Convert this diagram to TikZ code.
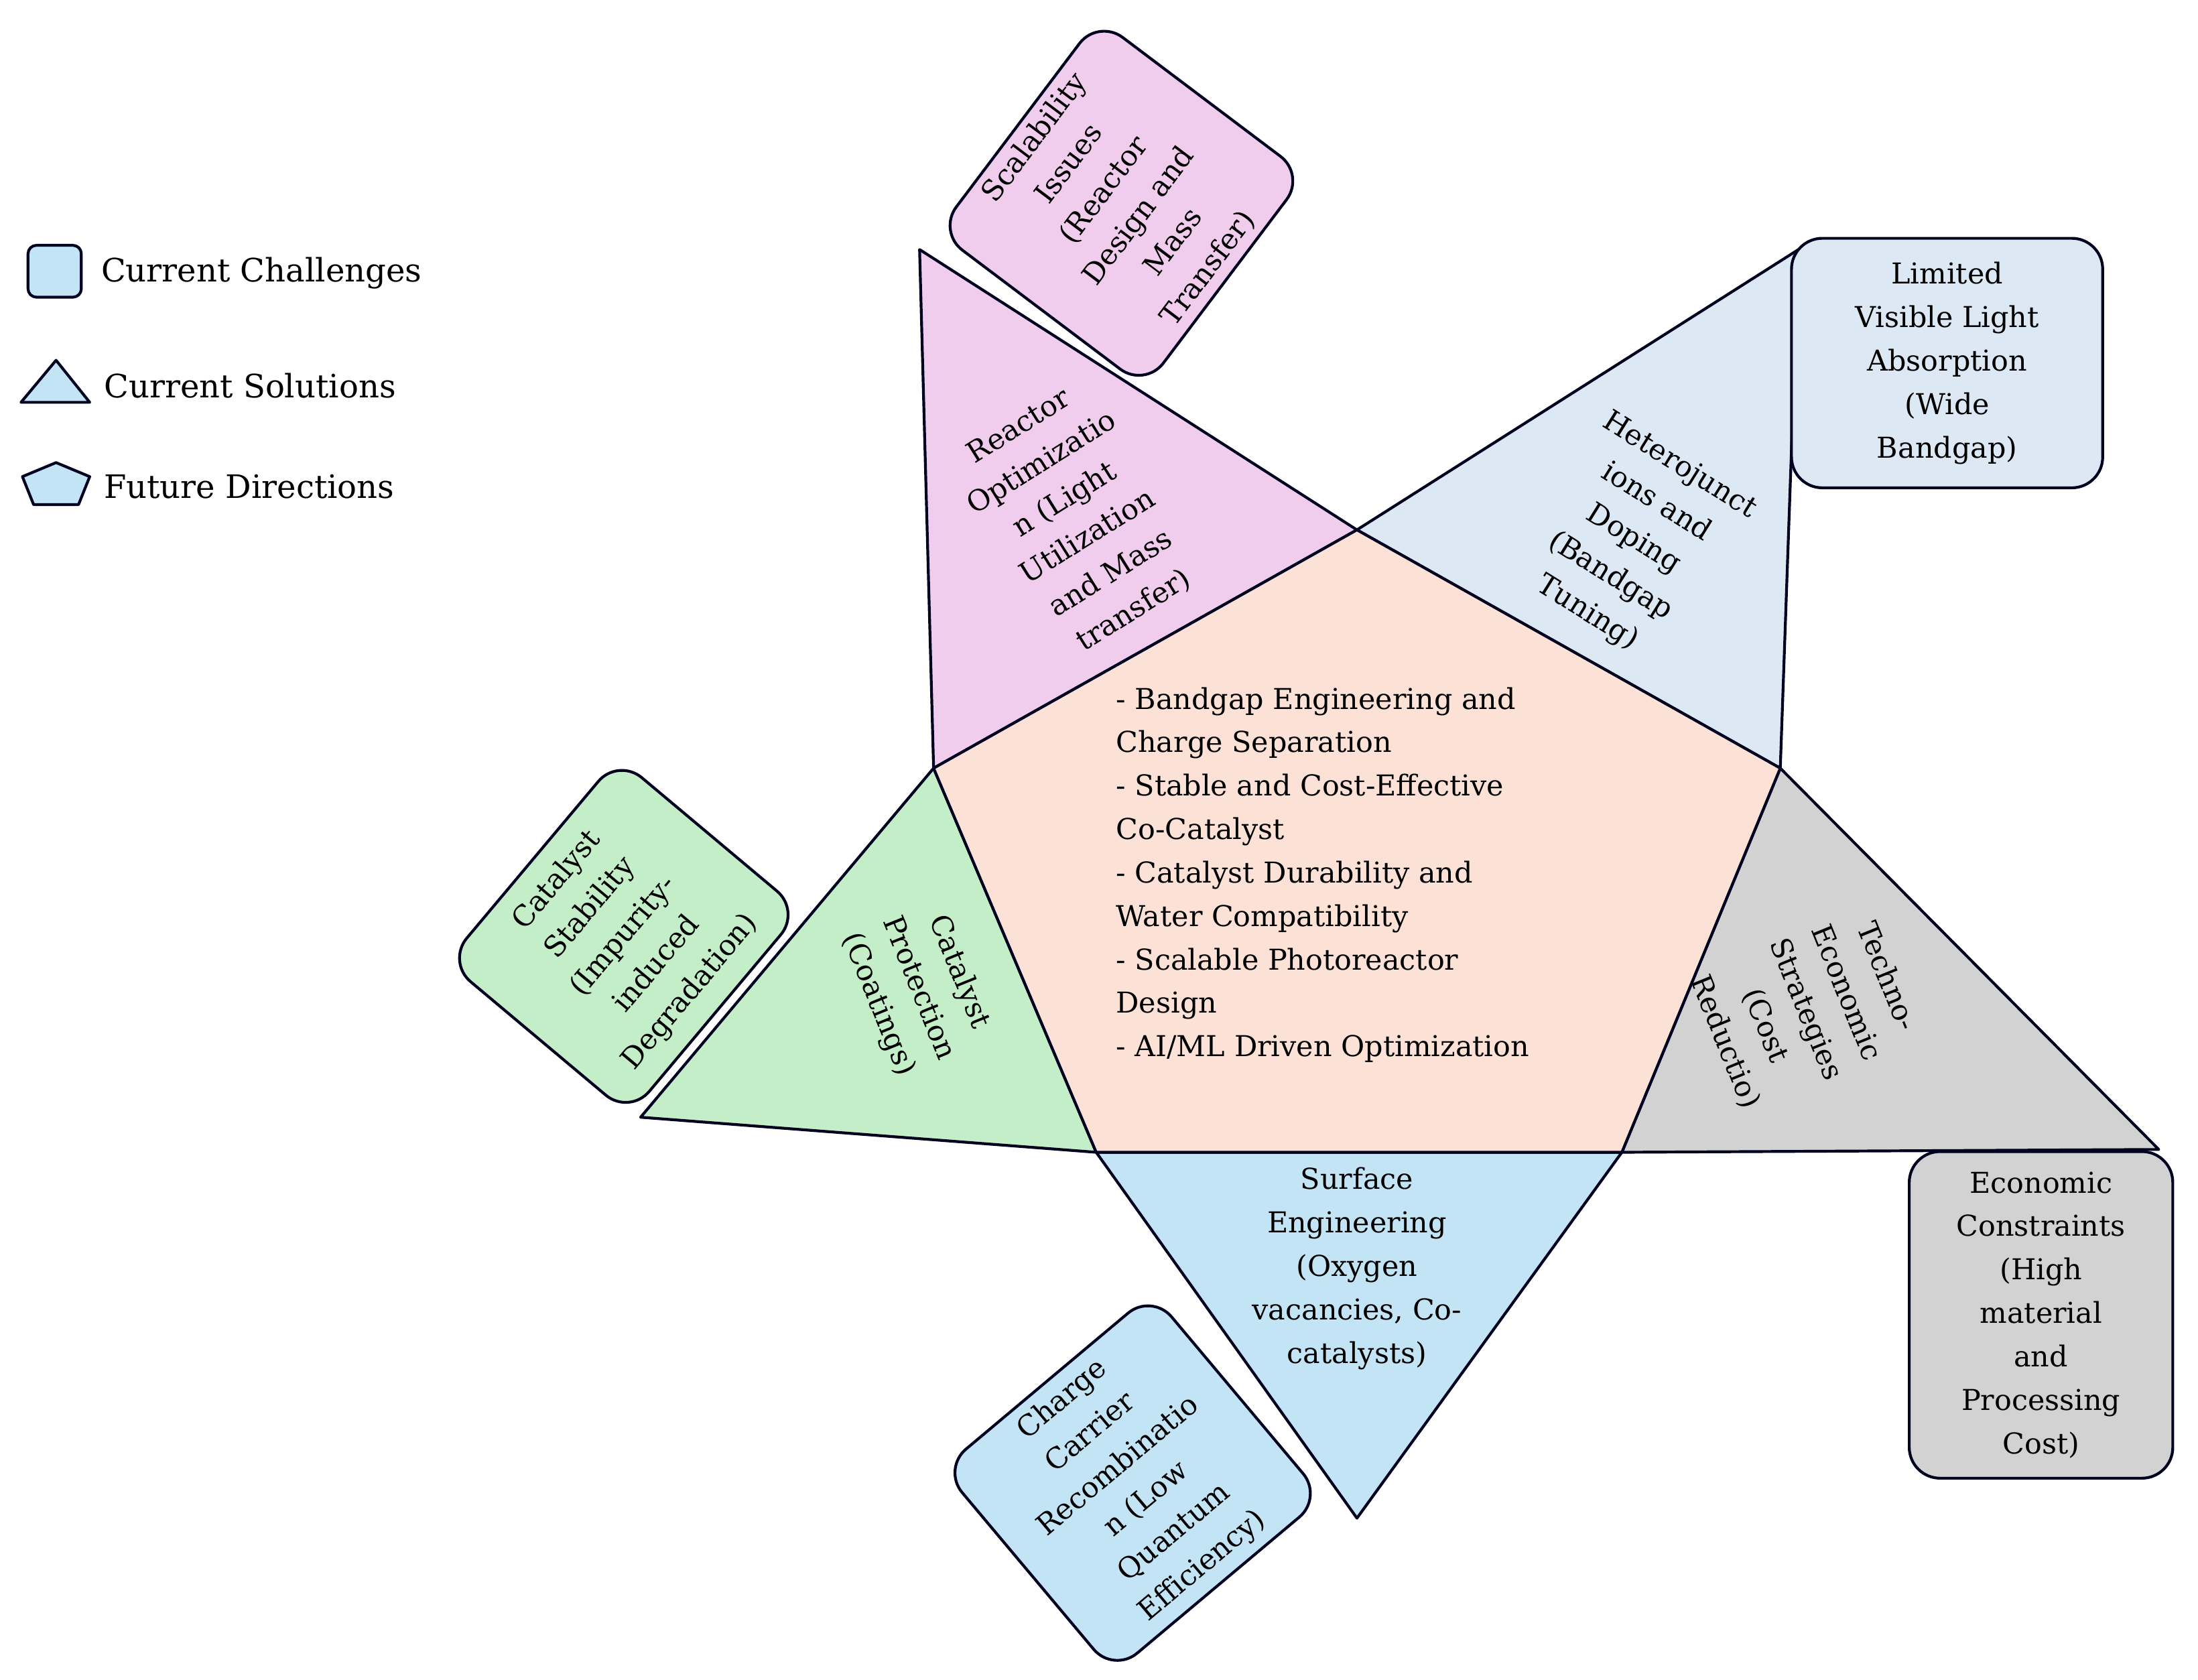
\documentclass[tikz,border=0pt]{standalone}
\usepackage{fontspec}
\setmainfont{DejaVu Serif}
\begin{document}
\begin{tikzpicture}[x=1pt,y=-1pt,
  edge/.style={draw=black!80!blue!60!black,line width=2pt,line join=round},
  rbox/.style={edge,rounded corners=22pt,align=center,inner sep=2pt,font=\fontsize{20.5}{31}\selectfont},
  lbl/.style={align=center,font=\fontsize{20.5}{31}\selectfont,inner sep=0pt}]
\useasboundingbox (0,0) rectangle (1568,1198);
\definecolor{cpur}{HTML}{F0CDEC}\definecolor{clb}{HTML}{DDE8F5}\definecolor{cgr}{HTML}{D2D2D2}
\definecolor{cbl}{HTML}{C3E4F4}\definecolor{cgn}{HTML}{C4EEC8}\definecolor{cpe}{HTML}{FCE1D6}
\coordinate (T) at (968,378); \coordinate (R) at (1270,548); \coordinate (BR) at (1157,822);
\coordinate (BL) at (782,822); \coordinate (L) at (666,548);
\coordinate (A1) at (656,178); \coordinate (A2) at (1283,178); \coordinate (A3) at (1540,820);
\coordinate (A4) at (968,1083); \coordinate (A5) at (457,797);
\draw[edge,fill=cpur] (L)--(T)--(A1)--cycle;
\draw[edge,fill=clb] (T)--(R)--(A2)--cycle;
\draw[edge,fill=cgr] (R)--(BR)--(A3)--cycle;
\draw[edge,fill=cbl] (BL)--(BR)--(A4)--cycle;
\draw[edge,fill=cgn] (L)--(BL)--(A5)--cycle;
\draw[edge,fill=cpe] (T)--(R)--(BR)--(BL)--(L)--cycle;
\node[rbox,fill=cpur,rotate=53,minimum width=190,minimum height=185] (b1) at (800,145) {Scalability\\Issues\\(Reactor\\Design and\\Mass\\Transfer)};
\node[rbox,fill=clb,minimum width=222,minimum height=178] (b2) at (1389,259) {Limited\\Visible Light\\Absorption\\(Wide\\Bandgap)};
\node[rbox,fill=cgr,minimum width=188,minimum height=233] (b3) at (1456,938) {Economic\\Constraints\\(High\\material\\and\\Processing\\Cost)};
\node[rbox,fill=cbl,rotate=40,minimum width=195,minimum height=190] (b4) at (808,1058) {Charge\\Carrier\\Recombinatio\\n (Low\\Quantum\\Efficiency)};
\node[rbox,fill=cgn,rotate=50,minimum width=190,minimum height=170] (b5) at (445,668) {Catalyst\\Stability\\(Impurity-\\induced\\Degradation)};
\node[lbl,rotate=32] (t1) at (768,370) {Reactor\\Optimizatio\\n (Light\\Utilization\\and Mass\\transfer)};
\node[lbl,rotate=-32] (t2) at (1165,385) {Heterojunct\\ions and\\Doping\\(Bandgap\\Tuning)};
\node[lbl,rotate=-68] (t3) at (1288,720) {Techno-\\Economic\\Strategies\\(Cost\\Reductio)};
\node[lbl,rotate=-68] (t4) at (655,705) {Catalyst\\Protection\\(Coatings)};
\node[lbl] (t5) at (968,905) {Surface\\Engineering\\(Oxygen\\vacancies, Co-\\catalysts)};
\node[lbl,align=left,anchor=north west] (tc) at (796,490) {- Bandgap Engineering and\\Charge Separation\\- Stable and Cost-Effective\\Co-Catalyst\\- Catalyst Durability and\\Water Compatibility\\- Scalable Photoreactor\\Design\\- AI/ML Driven Optimization};
\draw[edge,fill=cbl,rounded corners=6pt] (20,175) rectangle (58,212);
\draw[edge,fill=cbl] (15,287)--(64,287)--(40,257)--cycle;
\draw[edge,fill=cbl] (40,330)--(64,340)--(56,360)--(24,360)--(16,340)--cycle;
\node[lbl,anchor=west,font=\fontsize{23}{30}\selectfont] (l1) at (72,195) {Current Challenges};
\node[lbl,anchor=west,font=\fontsize{23}{30}\selectfont] (l2) at (74,275) {Current Solutions};
\node[lbl,anchor=west,font=\fontsize{23}{30}\selectfont] (l3) at (74,347) {Future Directions};
\end{tikzpicture}
\end{document}
